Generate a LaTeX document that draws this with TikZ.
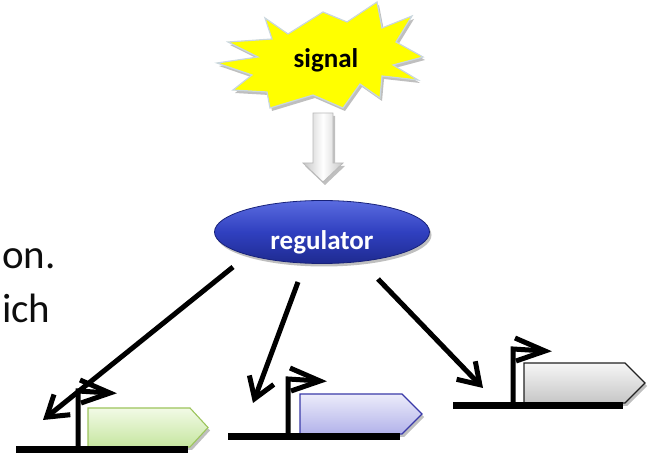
\documentclass[tikz,border=0pt]{standalone}
\usepackage{fontspec}
\setmainfont{Carlito}
\usetikzlibrary{arrows.meta,shadows,shapes.geometric,calc}

\definecolor{burstfill}{HTML}{FFFF00}
\definecolor{burstedge}{HTML}{C9D6DE}
\definecolor{regtop}{HTML}{5A6BE0}
\definecolor{regmid}{HTML}{3040C0}
\definecolor{regbot}{HTML}{1E2A90}
\definecolor{regedge}{HTML}{18227A}
\definecolor{greentop}{HTML}{F2FAE6}
\definecolor{greenbot}{HTML}{C6E6A0}
\definecolor{greenedge}{HTML}{9CC45C}
\definecolor{bluetop}{HTML}{ECECFA}
\definecolor{bluebot}{HTML}{B2B2EA}
\definecolor{blueedge}{HTML}{3A3AA8}
\definecolor{graytop}{HTML}{F6F6F6}
\definecolor{graybot}{HTML}{C6C6C6}
\definecolor{grayedge}{HTML}{222222}
\definecolor{bodytext}{HTML}{0D0D0D}

\tikzset{
  softshadow/.style={drop shadow={shadow xshift=2pt,shadow yshift=-3pt,opacity=0.25,fill=black}},
  regarrow/.style={line width=5pt,-{Straight Barb[length=20pt,width=26pt]}},
  flagline/.style={line width=5pt,line join=miter},
  dnaline/.style={line width=7pt},
  genebox/.style={line width=1.1pt,softshadow},
  boldlabel/.style={font=\fontsize{27}{31}\selectfont\bfseries,inner sep=0pt},
  bodylabel/.style={font=\fontsize{41}{48}\selectfont,text=bodytext,inner sep=0pt,anchor=base west},
}

\begin{document}
\begin{tikzpicture}[x=1pt,y=-1pt]
\useasboundingbox (0,0) rectangle (654,462);

% body text running in from the left
\node[bodylabel] (line1) at (2,269) {on.};
\node[bodylabel] (line2) at (2,323) {ich};

% signal starburst
\draw[fill=burstfill,draw=burstedge,line width=1.2pt,softshadow,line join=miter]
  (228,42) -- (272,39) -- (265,18) -- (288,34) -- (323,12) -- (347,22)
  -- (377,2) -- (382,28) -- (412,16) -- (396,42) -- (423,57) -- (393,65)
  -- (418,80) -- (382,76) -- (380,98) -- (360,84) -- (343,108) -- (313,95)
  -- (270,108) -- (267,92) -- (233,90) -- (252,75) -- (217,63) -- (258,57)
  -- cycle;
\node[boldlabel] (signal) at (326,68) [anchor=base] {signal};

% block arrow from signal to regulator
\draw[left color=gray!45,right color=gray!45,middle color=white,draw=gray!55,line width=0.8pt,softshadow]
  (313,113) -- (333,113) -- (333,163) -- (343,163) -- (323,182)
  -- (303,163) -- (313,163) -- cycle;

% regulator
\node[ellipse,minimum width=215pt,minimum height=63pt,inner sep=0pt,
      top color=regtop,bottom color=regbot,middle color=regmid,
      draw=regedge,line width=0.8pt,softshadow] (reg) at (322,232) {};
\node[boldlabel,text=white,anchor=base] (reglabel) at (322,250) {regulator};

% gene 1 (green)
\draw[genebox,top color=greentop,bottom color=greenbot,draw=greenedge]
  (88,408) -- (190,408) -- (208,427.5) -- (190,447) -- (88,447) -- cycle;
\coordinate (g1a) at (16,450);
\coordinate (g1b) at (188,450);
\draw[dnaline] (g1a) -- (g1b);
\coordinate (p1base) at (78,453);
\coordinate (p1top) at (78,391);
\coordinate (p1tip) at (110,393);
\draw[flagline] (p1base) -- (p1top) -- (p1tip);
\draw[flagline] ($(p1tip)+(-30,-13)$) -- (p1tip) -- ($(p1tip)+(-29,10)$);

% gene 2 (blue)
\draw[genebox,top color=bluetop,bottom color=bluebot,draw=blueedge]
  (300,394) -- (402,394) -- (422,414) -- (402,434) -- (300,434) -- cycle;
\coordinate (g2a) at (228,437);
\coordinate (g2b) at (400,437);
\draw[dnaline] (g2a) -- (g2b);
\coordinate (p2base) at (288,440);
\coordinate (p2top) at (288,379);
\coordinate (p2tip) at (320,381);
\draw[flagline] (p2base) -- (p2top) -- (p2tip);
\draw[flagline] ($(p2tip)+(-30,-13)$) -- (p2tip) -- ($(p2tip)+(-29,10)$);

% gene 3 (grey)
\draw[genebox,top color=graytop,bottom color=graybot,draw=grayedge]
  (524,363) -- (625,363) -- (645,383) -- (625,403) -- (524,403) -- cycle;
\coordinate (g3a) at (453,406);
\coordinate (g3b) at (623,406);
\draw[dnaline] (g3a) -- (g3b);
\coordinate (p3base) at (513,409);
\coordinate (p3top) at (513,349);
\coordinate (p3tip) at (545,351);
\draw[flagline] (p3base) -- (p3top) -- (p3tip);
\draw[flagline] ($(p3tip)+(-30,-13)$) -- (p3tip) -- ($(p3tip)+(-29,10)$);

% regulator acting on the three promoters
\coordinate (s1) at (233,267);
\coordinate (t1) at (43,420);
\coordinate (s2) at (298,282);
\coordinate (t2) at (253,403);
\coordinate (s3) at (378,279);
\coordinate (t3) at (483,388);
\draw[regarrow] (s1) -- (t1);
\draw[regarrow] (s2) -- (t2);
\draw[regarrow] (s3) -- (t3);
\end{tikzpicture}
\end{document}
